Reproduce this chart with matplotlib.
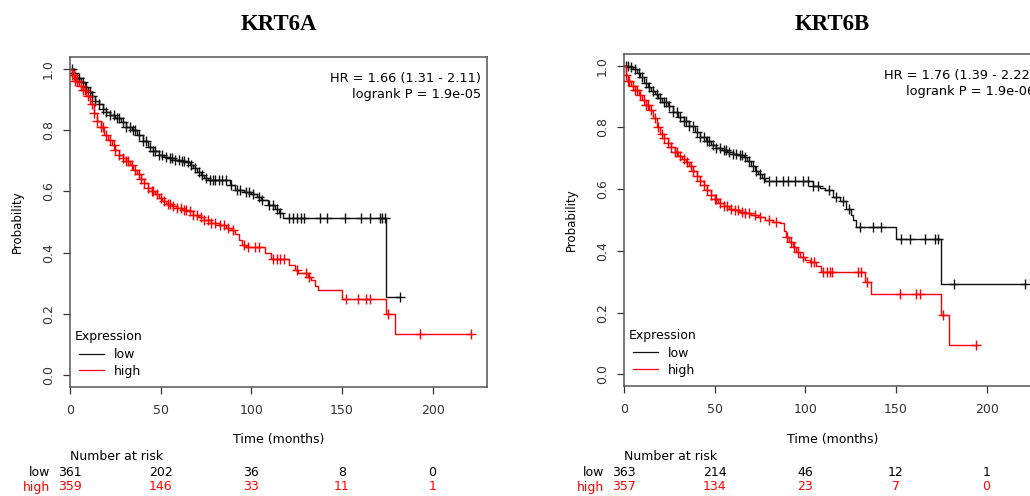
import numpy as np
import matplotlib
matplotlib.use('Agg')
import matplotlib.pyplot as plt
from matplotlib.transforms import blended_transform_factory
from matplotlib.lines import Line2D

# ---- KRT6A ----
a_low_t = [0, 2, 4, 6, 8, 10, 12, 14, 16, 18, 20, 22, 25, 28, 31, 34, 37, 40, 43, 46,
           49, 52, 55, 58, 61, 64, 66, 68, 70, 72, 74, 76, 88, 91, 96, 100, 103, 105.6,
           109, 113, 115, 117.5, 174.5, 182]
a_low_s = [1.0, 0.985, 0.97, 0.955, 0.94, 0.925, 0.91, 0.895, 0.885, 0.87, 0.86, 0.85,
           0.84, 0.825, 0.81, 0.80, 0.785, 0.765, 0.745, 0.73, 0.72, 0.712, 0.708, 0.703,
           0.70, 0.695, 0.685, 0.675, 0.663, 0.653, 0.645, 0.636, 0.62, 0.604, 0.598,
           0.59, 0.58, 0.571, 0.556, 0.544, 0.53, 0.512, 0.255, 0.255]
a_low_cens = [1, 2, 4, 5, 7, 9, 11, 12, 14, 16, 18, 20, 22, 24, 26, 27, 29, 31, 33, 35,
              36, 38, 40, 42, 44, 46, 47, 49, 51, 53, 55, 56, 58, 60, 62, 63, 65, 67, 69,
              71, 73, 75, 77, 79, 80, 82, 84, 86, 89, 92, 94, 97, 99, 101, 104, 106, 110,
              112, 114, 116, 121, 123, 125, 127.6, 129, 138, 141.6, 151.5, 160.7, 165.3,
              170.8, 172.3, 173.6, 182]

a_high_t = [0, 1, 3, 5, 7, 9, 11, 13, 15, 17, 19, 21, 23, 25, 27, 29, 31, 33, 35, 37, 39,
            41, 43, 45, 47, 49, 51, 53, 56, 59, 62, 65, 68, 71, 74, 78, 82, 86, 89, 91,
            93, 95, 97, 107.4, 111, 121, 124, 126, 131, 133, 135, 136.7, 150.2, 174.5,
            179, 221.3]
a_high_s = [1.0, 0.98, 0.96, 0.945, 0.93, 0.91, 0.885, 0.855, 0.83, 0.81, 0.785, 0.766,
            0.75, 0.735, 0.72, 0.71, 0.70, 0.685, 0.67, 0.655, 0.64, 0.626, 0.612, 0.60,
            0.59, 0.578, 0.568, 0.56, 0.552, 0.547, 0.54, 0.535, 0.522, 0.515, 0.505,
            0.498, 0.49, 0.48, 0.474, 0.46, 0.44, 0.425, 0.42, 0.40, 0.379, 0.36, 0.345,
            0.333, 0.322, 0.31, 0.29, 0.277, 0.249, 0.201, 0.135, 0.135]
a_high_cens = [1, 2, 3, 4, 6, 7, 8, 10, 12, 13, 15, 17, 18, 20, 22, 24, 25, 27, 29, 31,
               32, 34, 36, 38, 39, 41, 43, 45, 46, 48, 50, 52, 54, 55, 57, 59, 61, 63, 64,
               66, 68, 70, 72, 74, 76, 78, 80, 83, 85, 87, 90, 96, 98, 102, 104, 112, 114,
               116, 118, 125, 130, 132, 152.4, 158.8, 163.5, 165.3, 175.4, 192.8, 221.3]

# ---- KRT6B ----
b_low_t = [0, 3, 5, 7, 9, 11, 13, 15, 17, 19, 21, 24, 27, 30, 33, 36, 39, 42, 45, 48, 51,
           54, 57, 60, 63, 66, 68, 70, 72, 74, 76, 78, 104.3, 108, 111, 115, 119, 122.7,
           125, 126.4, 128, 150, 175, 221]
b_low_s = [1.0, 0.995, 0.99, 0.975, 0.962, 0.945, 0.93, 0.918, 0.908, 0.895, 0.884,
           0.868, 0.85, 0.835, 0.82, 0.805, 0.785, 0.77, 0.755, 0.742, 0.733, 0.726, 0.72,
           0.714, 0.71, 0.704, 0.69, 0.675, 0.66, 0.648, 0.636, 0.625, 0.61, 0.605, 0.598,
           0.576, 0.56, 0.535, 0.515, 0.50, 0.478, 0.437, 0.291, 0.291]
b_low_cens = [1, 2, 4, 6, 8, 10, 12, 14, 16, 18, 20, 22, 23, 25, 27, 29, 31, 33, 34, 36,
              38, 40, 42, 44, 46, 47, 49, 51, 53, 55, 56, 58, 60, 62, 64, 65, 67, 69, 71,
              73, 75, 77, 80, 84, 87.8, 90.6, 94.3, 98.8, 101.6, 104.3, 107, 113, 117, 121,
              124, 130, 137.4, 142, 153, 157.6, 165.8, 171.3, 173.2, 182.2, 221]

b_high_t = [0, 1, 2, 4, 6, 8, 10, 12, 14, 16, 18, 20, 22, 24, 26, 28, 30, 32, 34, 36, 38,
            40, 42, 44, 46, 48, 50, 52, 55, 58, 61, 64, 67, 70, 74, 78, 82, 86, 88, 89.6,
            91, 93.3, 95, 97, 100, 102.5, 106, 108.9, 133, 136.5, 175, 179, 194.3]
b_high_s = [1.0, 0.97, 0.95, 0.935, 0.92, 0.905, 0.89, 0.873, 0.855, 0.83, 0.80, 0.78,
            0.765, 0.75, 0.735, 0.72, 0.708, 0.698, 0.688, 0.675, 0.66, 0.643, 0.628,
            0.612, 0.597, 0.582, 0.568, 0.556, 0.545, 0.537, 0.532, 0.526, 0.522, 0.516,
            0.51, 0.50, 0.495, 0.489, 0.465, 0.445, 0.43, 0.413, 0.395, 0.38, 0.37, 0.364,
            0.35, 0.331, 0.30, 0.259, 0.193, 0.096, 0.096]
b_high_cens = [1, 2, 3, 5, 6, 7, 9, 11, 12, 13, 15, 17, 19, 21, 22, 24, 26, 28, 29, 31,
               33, 35, 37, 38, 40, 42, 44, 46, 48, 50, 51, 53, 55, 57, 59, 61, 63, 65, 67,
               69, 72, 75, 80, 84, 90, 92, 94, 96, 99, 103, 105, 110, 112, 113.5, 114.5,
               129, 130.9, 134, 152, 160.9, 163, 176, 194.3]

risk_times = [0, 50, 100, 150, 200]
a_risk_low = [361, 202, 36, 8, 0]
a_risk_high = [359, 146, 33, 11, 1]
b_risk_low = [363, 214, 46, 12, 1]
b_risk_high = [357, 134, 23, 7, 0]

panels = [
    dict(title="KRT6A", low=(a_low_t, a_low_s, a_low_cens), high=(a_high_t, a_high_s, a_high_cens),
         hr="HR = 1.66 (1.31 - 2.11)", p="logrank P = 1.9e-05",
         risk_low=a_risk_low, risk_high=a_risk_high),
    dict(title="KRT6B", low=(b_low_t, b_low_s, b_low_cens), high=(b_high_t, b_high_s, b_high_cens),
         hr="HR = 1.76 (1.39 - 2.22)", p="logrank P = 1.9e-06",
         risk_low=b_risk_low, risk_high=b_risk_high),
]

W, H = 1030, 496
# axes boxes in pixels: left, top, right, bottom
boxes = [(70, 57, 487, 387), (624, 54, 1041, 386)]

FS = 9
RED = '#ff0000'
BLK = '#111111'
fig = plt.figure(figsize=(W / 100, H / 100), dpi=100)


def surv_at(t, s, x):
    i = np.searchsorted(t, x, side='right') - 1
    return np.asarray(s)[i]


for panel, (l, t, r, b) in zip(panels, boxes):
    ax = fig.add_axes([l / W, 1 - b / H, (r - l) / W, (b - t) / H])
    for key, col in (('low', BLK), ('high', RED)):
        tt, ss, cens = panel[key]
        ax.step(tt, ss, where='post', color=col, lw=1.0)
        ax.plot(cens, surv_at(tt, ss, cens), ls='none', marker='+', ms=6.5,
                mew=1.0, color=col)
    ax.set_xlim(0, 230)
    ax.set_ylim(-0.038, 1.038)
    ax.set_xticks([0, 50, 100, 150, 200])
    ax.set_yticks([0.0, 0.2, 0.4, 0.6, 0.8, 1.0])
    ax.set_yticklabels(['0.0', '0.2', '0.4', '0.6', '0.8', '1.0'], rotation=90, va='center')
    ax.tick_params(direction='out', length=5, width=0.9, labelsize=FS, colors='#333333')
    ax.tick_params(axis='x', pad=7)
    ax.tick_params(axis='y', pad=6)
    for sp in ax.spines.values():
        sp.set_color('#555555')
        sp.set_linewidth(1.1)
    ax.set_ylabel("Probability", fontsize=FS - 0.5, labelpad=13)

    ax.text(0.985, 0.955, panel['hr'] + "\n" + panel['p'], transform=ax.transAxes,
            ha='right', va='top', fontsize=FS + 0.3, linespacing=1.3)

    ax.text(0.012, 0.152, "Expression", transform=ax.transAxes, ha='left', va='center',
            fontsize=FS)
    handles = [Line2D([], [], color=BLK, lw=0.9), Line2D([], [], color=RED, lw=0.9)]
    ax.legend(handles, ['low', 'high'], loc='upper left', bbox_to_anchor=(0.022, 0.118),
              frameon=False, fontsize=FS, handlelength=2.0, handletextpad=0.8,
              labelspacing=0.3, borderaxespad=0, borderpad=0.0)

    fig.text((l + r) / 2 / W, 1 - 25 / H, panel['title'], ha='center', va='center',
             fontsize=16.5, fontweight='bold', family='Liberation Serif')
    fig.text((l + r) / 2 / W, 1 - 440 / H, "Time (months)", ha='center', va='center',
             fontsize=FS)

    trans = blended_transform_factory(ax.transData, fig.transFigure)
    ax.text(0, 1 - 457 / H, "Number at risk", transform=trans, ha='left', va='center',
            fontsize=FS, clip_on=False)
    ax.text(-11, 1 - 472 / H, "low", transform=trans, ha='right', va='center',
            fontsize=FS, clip_on=False)
    ax.text(-11, 1 - 487 / H, "high", transform=trans, ha='right', va='center',
            fontsize=FS, color=RED, clip_on=False)
    for x, n_lo, n_hi in zip(risk_times, panel['risk_low'], panel['risk_high']):
        ax.text(x, 1 - 472 / H, str(n_lo), transform=trans, ha='center', va='center',
                fontsize=FS, clip_on=False)
        ax.text(x, 1 - 487 / H, str(n_hi), transform=trans, ha='center', va='center',
                fontsize=FS, color=RED, clip_on=False)

fig.savefig("out.png", dpi=100)
